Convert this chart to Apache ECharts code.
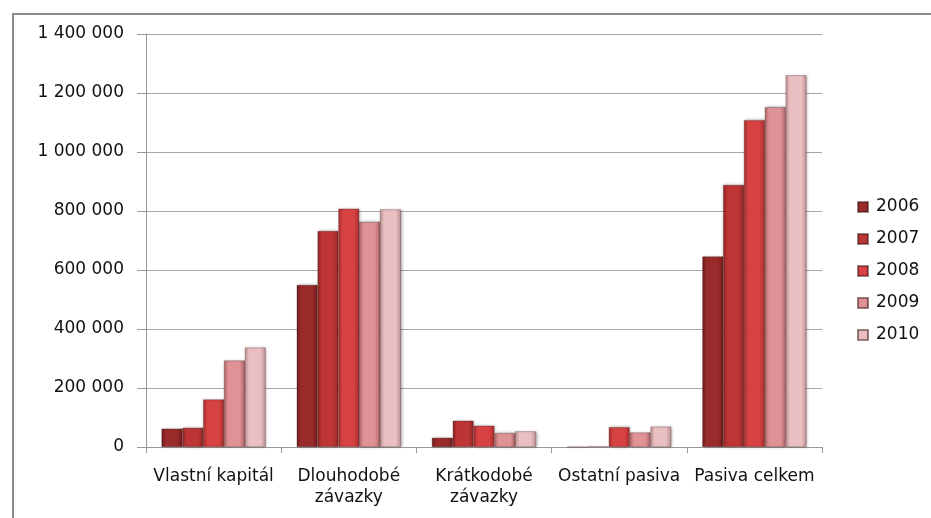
<!DOCTYPE html>
<html>
<head>
<meta charset="utf-8">
<script src="https://cdn.jsdelivr.net/npm/echarts@6/dist/echarts.min.js"></script>
<style>
  html, body { margin: 0; padding: 0; background: #fff; }
  #chart { width: 931px; height: 518px; }
</style>
</head>
<body>
<div id="chart"></div>
<script>
  // kategorie a roky
  const categories = ['Vlastní kapitál', 'Dlouhodobé\nzávazky', 'Krátkodobé\nzávazky', 'Ostatní pasiva', 'Pasiva celkem']
  const years = ['2006', '2007', '2008', '2009', '2010']

  // hodnoty podle roku (odhad z obrázku)
  const values2006 = [62000, 549000, 31000, 0, 646000]
  const values2007 = [65000, 732000, 89000, 2000, 888000]
  const values2008 = [161000, 808000, 72000, 67000, 1108000]
  const values2009 = [293000, 763000, 47000, 49000, 1152000]
  const values2010 = [337000, 805000, 53000, 69000, 1260000]
  const seriesValues = [values2006, values2007, values2008, values2009, values2010]

  // barvy sloupců: [okraj, střed]
  const barColors = [
    ['#6e1b1b', '#9a2b2b'],
    ['#8f2626', '#bd3535'],
    ['#a92e2e', '#d74242'],
    ['#b06468', '#df9397'],
    ['#bb9193', '#ebc0c2']
  ]

  const fontFamily = 'DejaVu Sans'

  const chart = echarts.init(document.getElementById('chart'))

  // formát s mezerou jako oddělovačem tisíců
  const fmt = v => String(v).replace(/\B(?=(\d{3})+(?!\d))/g, ' ')

  const option = {
    animation: false,
    textStyle: { fontFamily: fontFamily },
    graphic: [{
      type: 'rect',
      shape: { x: 13, y: 14, width: 1000, height: 600 },
      style: { fill: 'none', stroke: '#8a8a8a', lineWidth: 2 },
      silent: true
    }],
    grid: {
      left: 146,
      right: 109,
      top: 34,
      bottom: 71
    },
    legend: {
      orient: 'vertical',
      left: 852,
      top: 193,
      itemWidth: 10,
      itemHeight: 10,
      itemGap: 14,
      icon: 'rect',
      textStyle: { fontSize: 17, color: '#111', lineHeight: 18, padding: [0, 0, 0, 3], fontFamily: fontFamily },
      data: years
    },
    xAxis: {
      type: 'category',
      data: categories,
      axisLine: { lineStyle: { color: '#999', width: 1 } },
      axisTick: { show: true, length: 6, lineStyle: { color: '#999' } },
      axisLabel: {
        color: '#111',
        fontSize: 17,
        lineHeight: 21,
        margin: 19,
        interval: 0,
        fontFamily: fontFamily
      }
    },
    yAxis: {
      type: 'value',
      min: 0,
      max: 1400000,
      interval: 200000,
      axisLine: { show: true, lineStyle: { color: '#999', width: 1 } },
      axisTick: { show: true, length: 9, lineStyle: { color: '#999' } },
      splitLine: { lineStyle: { color: '#a6a6a6', width: 1 } },
      axisLabel: {
        color: '#111',
        fontSize: 17,
        margin: 22,
        formatter: v => fmt(v),
        fontFamily: fontFamily
      }
    },
    series: years.map((year, i) => ({
      name: year,
      type: 'bar',
      data: seriesValues[i],
      barGap: '0%',
      barCategoryGap: '23%',
      itemStyle: {
        color: new echarts.graphic.LinearGradient(0, 0, 1, 0, [
          { offset: 0, color: barColors[i][0] },
          { offset: 0.2, color: barColors[i][1] },
          { offset: 0.75, color: barColors[i][1] },
          { offset: 1, color: barColors[i][0] }
        ]),
        borderColor: 'rgba(60,20,20,0.5)',
        borderWidth: 0.5,
        shadowBlur: 3,
        shadowOffsetX: 1,
        shadowColor: 'rgba(0,0,0,0.35)'
      }
    }))
  }

  chart.setOption(option)
</script>
</body>
</html>
